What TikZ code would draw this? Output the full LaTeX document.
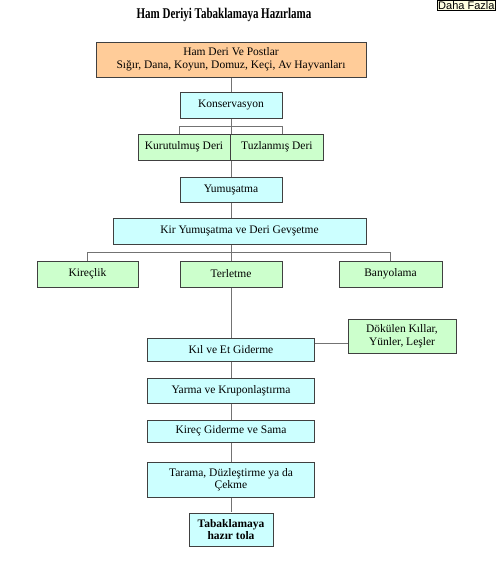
\documentclass[tikz,border=0pt]{standalone}
\usepackage{fontspec}
\setmainfont{Liberation Serif}
\newfontfamily\tipfont{Liberation Sans}
\usetikzlibrary{calc,positioning}

\definecolor{boxcyan}{HTML}{CCFFFF}
\definecolor{boxgreen}{HTML}{CCFFCC}
\definecolor{boxorange}{HTML}{FFCC99}
\definecolor{tipyellow}{HTML}{FFFFE1}

\tikzset{
	stepcyan/.style={draw=black!75, fill=boxcyan, inner sep=0pt, align=center, font=\fontsize{11.5}{12.5}\selectfont},
	stepgreen/.style={draw=black!75, fill=boxgreen, inner sep=0pt, align=center, font=\fontsize{11.5}{12.5}\selectfont},
	link/.style={draw=black!55, line width=0.8pt}
}

\begin{document}
\begin{tikzpicture}[x=1pt, y=-1pt]
					\useasboundingbox (0, 0) rectangle (497, 561);

					\node[font=\bfseries\fontsize{11}{13}\selectfont] at (224, 15) (title) {\scalebox{1}[1.35]{Ham Deriyi Tabaklamaya Hazırlama}};
					\node[draw=black, fill=tipyellow, anchor=north west, inner sep=1pt, font=\tipfont\fontsize{11}{11}\selectfont] at (437, 0) (daha) {Daha Fazla};

					% hat boyunca kutular
					\draw[link] (231, 78) -- (231, 512);
					\node[stepcyan, fill=boxorange, minimum width=270, minimum height=35] at (231, 59.5) (hamderi) {Ham Deri Ve Postlar\\Sığır, Dana, Koyun, Domuz, Keçi, Av Hayvanları};
					\node[stepcyan, minimum width=102, minimum height=26] at (231, 105) (konserv) {Konservasyon};
					\node[stepgreen, minimum width=92, minimum height=26] at (184, 147) (kurutulmus) {Kurutulmuş Deri};
					\node[stepgreen, minimum width=93, minimum height=26, right=0pt of kurutulmus] (tuzlanmis) {Tuzlanmış Deri};
					\node[stepcyan, minimum width=102, minimum height=25] at (231, 189.5) (yumusatma) {Yumuşatma};
					\node[stepcyan, minimum width=253, minimum height=26] at (239.5, 231) (kir) {Kir Yumuşatma ve Deri Gevşetme};

					\node[stepgreen, minimum width=101, minimum height=26] at (87.5, 274) (kireclik) {Kireçlik};
					\node[stepgreen, minimum width=102, minimum height=26] at (231, 274) (terletme) {Terletme};
					\node[stepgreen, minimum width=103, minimum height=26] at (390.5, 274) (banyolama) {Banyolama};

					\node[stepcyan, minimum width=167, minimum height=23] at (231, 349.5) (kil) {Kıl ve Et Giderme};
					\node[stepgreen, minimum width=108, minimum height=34] at (402, 336) (dokulen) {Dökülen Kıllar,\\Yünler, Leşler};
					\node[stepcyan, minimum width=167, minimum height=25] at (231, 390.5) (yarma) {Yarma ve Kruponlaştırma};
					\node[stepcyan, minimum width=167, minimum height=22] at (231, 431) (kirec) {Kireç Giderme ve Sama};
					\node[stepcyan, minimum width=167, minimum height=35] at (231, 479.5) (tarama) {Tarama, Düzleştirme ya da\\Çekme};
					\node[stepcyan, minimum width=84, minimum height=33, font=\bfseries\fontsize{11.5}{12.5}\selectfont] at (231, 529.5) (tola) {Tabaklamaya\\hazır tola};

					% dallanmalar
					\draw[link] (konserv.south west |- kurutulmus.north) -- ++(0, -7) -| (konserv.south east |- kurutulmus.north);
					\draw[link] (kireclik.north) -- ++(0, -8) -| (banyolama.north);
					\draw[link] ([yshift=6pt]kil.east) -- ([yshift=6pt]kil.east -| dokulen.west);
				\end{tikzpicture}
\end{document}
